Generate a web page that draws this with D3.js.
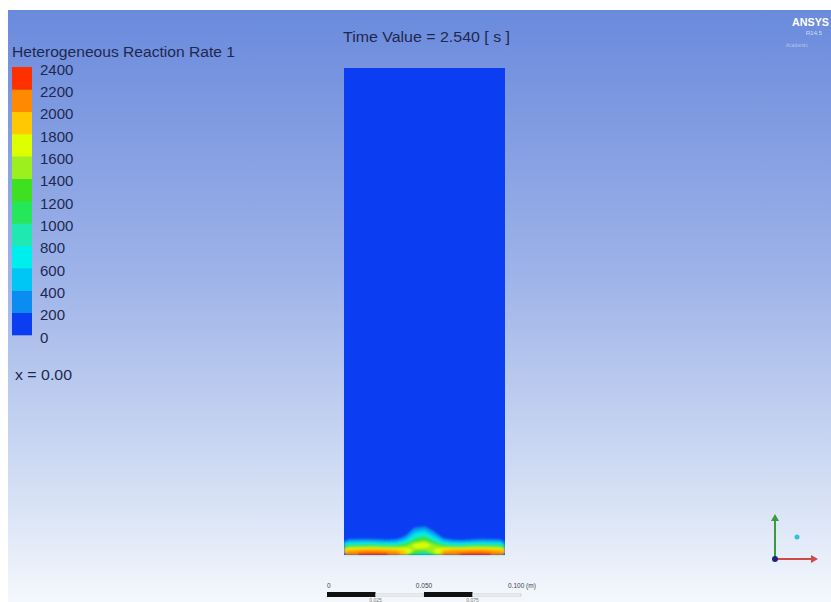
<!DOCTYPE html>
<html><head><meta charset="utf-8">
<script src="https://cdn.jsdelivr.net/npm/d3@7"></script>
<style>html,body{margin:0;padding:0;background:#fff;overflow:hidden;} svg{display:block;}</style>
</head><body>
<script>
// ---------------- data ----------------
const legendTitle = "Heterogeneous Reaction Rate 1";
const timeLabel = "Time Value = 2.540 [ s ]";
const sliceLabel = "x = 0.00";
const legendTicks = [0, 200, 400, 600, 800, 1000, 1200, 1400, 1600, 1800, 2000, 2200, 2400];
const bandColors = ["#0b3ef2", "#0a8cf0", "#00c6f5", "#00eeee", "#1fe8b0", "#26e65a",
                    "#3fe020", "#9cf01e", "#ddff00", "#ffc800", "#ff8a00", "#ff3000"];
const domainWidth = 0.083;   // m
const domainHeight = 0.251;  // m
const fieldRowHeight = 0.002; // m, spacing of sampled rows near the bottom wall
// reaction rate sampled across the width (17 columns), rows listed from the bottom wall upward
const fieldRows = [
  [2120, 2200, 2220, 2215, 2205, 2180, 1900, 1100, 900, 1500, 2100, 2190, 2215, 2225, 2215, 2200, 2120],
  [1850, 1900, 1950, 1950, 1900, 1850, 1750, 1550, 1500, 1600, 1800, 1900, 1900, 1950, 1950, 1900, 1850],
  [1050, 1050, 1100, 1100, 1000, 1000, 1300, 1750, 1850, 1500, 1150, 950, 950, 1050, 1100, 1050, 1000],
  [400, 420, 430, 400, 350, 380, 700, 1300, 1500, 1000, 500, 330, 300, 380, 420, 400, 380],
  [80, 100, 100, 80, 60, 80, 300, 900, 1100, 650, 150, 50, 40, 70, 90, 80, 70],
  [0, 0, 0, 0, 0, 0, 100, 600, 750, 320, 0, 0, 0, 0, 0, 0, 0],
  [0, 0, 0, 0, 0, 0, 0, 320, 420, 130, 0, 0, 0, 0, 0, 0, 0],
  [0, 0, 0, 0, 0, 0, 0, 110, 170, 0, 0, 0, 0, 0, 0, 0, 0],
  [0, 0, 0, 0, 0, 0, 0, 0, 0, 0, 0, 0, 0, 0, 0, 0, 0]
];
const scaleBarTicks = [0, 0.025, 0.05, 0.075, 0.1];
const scaleBarTopLabels = ["0", "0.050", "0.100  (m)"];
const scaleBarTopValues = [0, 0.05, 0.1];
const scaleBarBottomLabels = ["0.025", "0.075"];
const scaleBarBottomValues = [0.025, 0.075];

// ---------------- drawing ----------------
const W = 831, H = 602;
const FONT = "'Liberation Sans', Arial, sans-serif";
const TXT = "#1e2850";
const svg = d3.select("body").append("svg").attr("width", W).attr("height", H);
const defs = svg.append("defs");
const grad = defs.append("linearGradient").attr("id", "bg").attr("x1", 0).attr("y1", 0).attr("x2", 0).attr("y2", 1);
[["0%", "#6a8adc"], ["45%", "#9eb3e8"], ["80%", "#d3def4"], ["100%", "#f4f8fd"]]
  .forEach(([o, c]) => grad.append("stop").attr("offset", o).attr("stop-color", c));
defs.append("filter").attr("id", "soft").append("feGaussianBlur").attr("stdDeviation", 1.1);

svg.append("rect").attr("width", W).attr("height", H).attr("fill", "#fff");
svg.append("rect").attr("x", 8).attr("y", 10).attr("width", W - 8).attr("height", H - 10).attr("fill", "url(#bg)");

// domain scales
const sx = d3.scaleLinear().domain([0, domainWidth]).range([344, 505]);
const sy = d3.scaleLinear().domain([0, domainHeight]).range([555, 68]);
const color = d3.scaleThreshold().domain(legendTicks.slice(1, -1)).range(bandColors);

// domain background (lowest band)
svg.append("rect")
  .attr("x", sx(0)).attr("y", sy(domainHeight))
  .attr("width", sx(domainWidth) - sx(0)).attr("height", sy(0) - sy(domainHeight))
  .attr("fill", bandColors[0]);

// contour field near the bottom wall
const nx = fieldRows[0].length, ny = fieldRows.length;
const gridValues = [];
fieldRows.slice().reverse().forEach(r => r.forEach(v => gridValues.push(v)));
const gx = d3.scaleLinear().domain([0, nx]).range([0, domainWidth]);
const gy = d3.scaleLinear().domain([0, ny]).range([ny * fieldRowHeight, 0]);
const contours = d3.contours().size([nx, ny]).thresholds(legendTicks.slice(1, -1))(gridValues);
const proj = d3.geoTransform({ point(x, y) { this.stream.point(sx(gx(x)), sy(gy(y))); } });
const path = d3.geoPath(proj);
const clip = defs.append("clipPath").attr("id", "dom");
clip.append("rect").attr("x", sx(0)).attr("y", sy(domainHeight))
  .attr("width", sx(domainWidth) - sx(0)).attr("height", sy(0) - sy(domainHeight) + 1);
svg.append("g").attr("clip-path", "url(#dom)").append("g").attr("filter", "url(#soft)")
  .selectAll("path").data(contours).join("path")
  .attr("d", path)
  .attr("fill", d => color(d.value));
svg.append("line").attr("x1", sx(0)).attr("x2", sx(domainWidth)).attr("y1", sy(0) + 1).attr("y2", sy(0) + 1)
  .attr("stroke", "#c8f2f0").attr("stroke-width", 1.5).attr("opacity", 0.8);

// legend
const ly = d3.scaleLinear().domain([0, 2400]).range([335, 67]);
svg.append("text").attr("x", 12).attr("y", 57).attr("font-family", FONT).attr("font-size", 15.5)
  .attr("fill", TXT).attr("textLength", 223).attr("lengthAdjust", "spacingAndGlyphs").text(legendTitle);
svg.append("g").selectAll("rect").data(legendTicks.slice(0, -1)).join("rect")
  .attr("x", 12).attr("width", 20)
  .attr("y", d => ly(d + 200)).attr("height", d => ly(d) - ly(d + 200) + 0.3)
  .attr("fill", d => color(d));
svg.append("g").selectAll("text").data(legendTicks).join("text")
  .attr("x", 40).attr("y", d => ly(d) + 2.5).attr("dy", "0.35em")
  .attr("font-family", FONT).attr("font-size", 15).attr("fill", TXT)
  .text(d => d3.format("d")(d));
svg.append("text").attr("x", 15).attr("y", 380).attr("font-family", FONT).attr("font-size", 15.5)
  .attr("fill", TXT).attr("textLength", 57).attr("lengthAdjust", "spacingAndGlyphs").text(sliceLabel);

// time label
svg.append("text").attr("x", 343).attr("y", 41.5).attr("font-family", FONT).attr("font-size", 15.5)
  .attr("fill", TXT).attr("textLength", 167).attr("lengthAdjust", "spacingAndGlyphs").text(timeLabel);

// ANSYS logo
svg.append("text").attr("x", 792).attr("y", 26).attr("font-family", FONT).attr("font-weight", "bold")
  .attr("font-size", 11).attr("fill", "#ffffff").attr("textLength", 37).attr("lengthAdjust", "spacingAndGlyphs").text("ANSYS");
svg.append("text").attr("x", 806).attr("y", 35).attr("font-family", FONT).attr("font-size", 6)
  .attr("fill", "#ffffff").attr("opacity", 0.7).text("R14.5");
svg.append("text").attr("x", 786).attr("y", 47).attr("font-family", FONT).attr("font-size", 5)
  .attr("fill", "#ffffff").attr("opacity", 0.45).text("Academic");

// scale bar
const sb = d3.scaleLinear().domain([0, 0.1]).range([327, 521]);
const segs = d3.pairs(scaleBarTicks);
svg.append("g").selectAll("rect").data(segs).join("rect")
  .attr("x", d => sb(d[0])).attr("width", d => sb(d[1]) - sb(d[0]))
  .attr("y", (d, i) => i % 2 === 0 ? 592 : 594).attr("height", (d, i) => i % 2 === 0 ? 5 : 2)
  .attr("fill", (d, i) => i % 2 === 0 ? "#111" : "#fff")
  .attr("stroke", (d, i) => i % 2 === 0 ? "none" : "#aaa").attr("stroke-width", 0.5);
svg.append("g").selectAll("text").data(scaleBarTopValues).join("text")
  .attr("x", d => sb(d)).attr("y", 588)
  .attr("text-anchor", (d, i) => i === 1 ? "middle" : "start")
  .attr("dx", (d, i) => i === 2 ? -13 : 0)
  .attr("font-family", FONT).attr("font-size", 6.5).attr("fill", "#444")
  .text((d, i) => scaleBarTopLabels[i]);
svg.append("g").selectAll("text").data(scaleBarBottomValues).join("text")
  .attr("x", d => sb(d)).attr("y", 601.5).attr("text-anchor", "middle")
  .attr("font-family", FONT).attr("font-size", 5).attr("fill", "#777")
  .text((d, i) => scaleBarBottomLabels[i]);

// axis triad
const tri = svg.append("g");
tri.append("line").attr("x1", 775).attr("y1", 559).attr("x2", 775).attr("y2", 520).attr("stroke", "#3c9a3c").attr("stroke-width", 2);
tri.append("path").attr("d", "M771,521 L775,514 L779,521 Z").attr("fill", "#3c9a3c");
tri.append("line").attr("x1", 775).attr("y1", 559).attr("x2", 812).attr("y2", 559).attr("stroke", "#d04848").attr("stroke-width", 2);
tri.append("path").attr("d", "M811,555 L818,559 L811,563 Z").attr("fill", "#d04848");
tri.append("circle").attr("cx", 775).attr("cy", 559).attr("r", 3).attr("fill", "#1c2680");
tri.append("circle").attr("cx", 797).attr("cy", 537).attr("r", 2.5).attr("fill", "#2ec4d0");
</script>
</body></html>
